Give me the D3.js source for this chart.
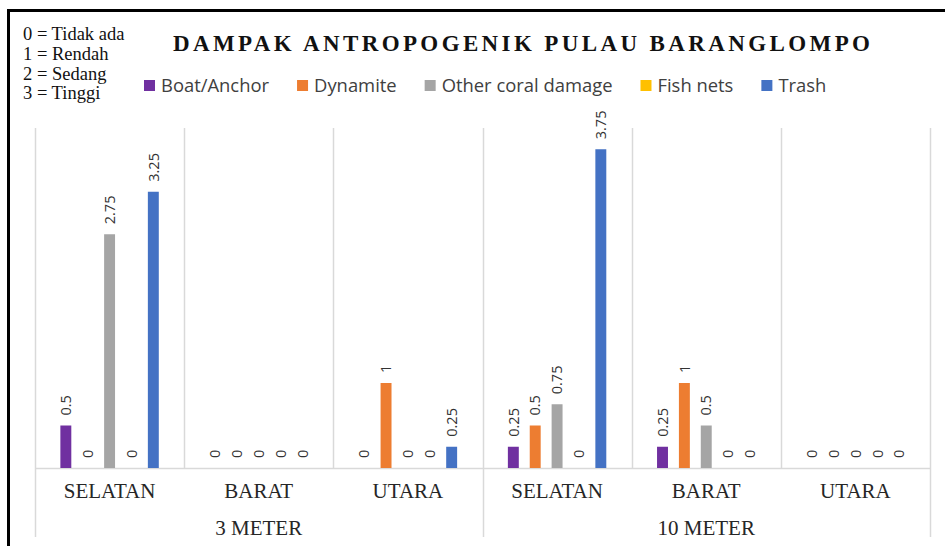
<!DOCTYPE html>
<html>
<head>
<meta charset="utf-8">
<script src="https://cdn.jsdelivr.net/npm/d3@7"></script>
<style>
  body { margin: 0; background: #fff; }
  svg { display: block; }
</style>
</head>
<body>
<div id="chart"></div>
<script>
// Data
const groups = ["3 METER", "10 METER"];
const locations = ["SELATAN", "BARAT", "UTARA"];
const seriesNames = ["Boat/Anchor", "Dynamite", "Other coral damage", "Fish nets", "Trash"];
const seriesColors = ["#7030A0", "#ED7D31", "#A5A5A5", "#FFC000", "#4472C4"];
// one value per category: 3m SELATAN, BARAT, UTARA, 10m SELATAN, BARAT, UTARA
const boatAnchor = [0.5, 0, 0, 0.25, 0.25, 0];
const dynamite = [0, 0, 1, 0.5, 1, 0];
const otherCoral = [2.75, 0, 0, 0.75, 0.5, 0];
const fishNets = [0, 0, 0, 0, 0, 0];
const trash = [3.25, 0, 0.25, 3.75, 0, 0];
const scaleKey = ["0 = Tidak ada", "1 = Rendah", "2 = Sedang", "3 = Tinggi"];
const titleText = "DAMPAK ANTROPOGENIK PULAU BARANGLOMPO";

const seriesValues = [boatAnchor, dynamite, otherCoral, fishNets, trash];

// Categories (group + location)
const categories = [];
groups.forEach((g, gi) => locations.forEach((l, li) => categories.push({ id: gi + "-" + li, group: g, loc: l })));

const bars = [];
categories.forEach((c, ci) => {
  seriesNames.forEach((s, si) => {
    bars.push({ cat: c.id, series: s, si, value: seriesValues[si][ci] });
  });
});

const width = 945, height = 546;
const plot = { left: 35, right: 930, top: 128, bottom: 468 };

const svg = d3.select("#chart").append("svg")
  .attr("width", width)
  .attr("height", height);

// Scales
const x0 = d3.scaleBand()
  .domain(categories.map((d) => d.id))
  .range([plot.left, plot.right])
  .padding(0);

const x1 = d3.scaleBand()
  .domain(seriesNames)
  .range([0, x0.bandwidth()])
  .paddingInner(0.5)
  .paddingOuter(1.16);

const y = d3.scaleLinear().domain([0, 4]).range([plot.bottom, plot.top]);

// Border (black frame, top + left)
svg.append("line")
  .attr("x1", 7).attr("x2", width)
  .attr("y1", 10.5).attr("y2", 10.5)
  .attr("stroke", "#000").attr("stroke-width", 3);
svg.append("line")
  .attr("x1", 8.5).attr("x2", 8.5)
  .attr("y1", 9).attr("y2", height)
  .attr("stroke", "#000").attr("stroke-width", 3);

// Grid / axis lines
const grid = svg.append("g").attr("stroke", "#D9D9D9").attr("stroke-width", 1.5);
categories.forEach((c, i) => {
  const xx = Math.round(x0(c.id)) + 0.5;
  const isGroupEdge = i % locations.length === 0;
  grid.append("line")
    .attr("x1", xx).attr("x2", xx)
    .attr("y1", plot.top).attr("y2", isGroupEdge ? 537 : plot.bottom);
});
grid.append("line")
  .attr("x1", plot.right + 0.5).attr("x2", plot.right + 0.5)
  .attr("y1", plot.top).attr("y2", 537);
grid.append("line")
  .attr("x1", plot.left).attr("x2", plot.right)
  .attr("y1", plot.bottom + 0.5).attr("y2", plot.bottom + 0.5);

// Bars
const barG = svg.append("g");
barG.selectAll("rect")
  .data(bars.filter((d) => d.value > 0))
  .join("rect")
  .attr("x", (d) => x0(d.cat) + x1(d.series))
  .attr("y", (d) => y(d.value))
  .attr("width", x1.bandwidth())
  .attr("height", (d) => y(0) - y(d.value))
  .attr("fill", (d) => seriesColors[d.si]);

// Data labels (rotated)
barG.selectAll("text")
  .data(bars)
  .join("text")
  .attr("transform", (d) => {
    const cx = x0(d.cat) + x1(d.series) + x1.bandwidth() / 2;
    return `translate(${cx},${y(d.value) - 10}) rotate(-90)`;
  })
  .attr("dy", "0.36em")
  .attr("text-anchor", "start")
  .attr("font-family", "'Open Sans', sans-serif")
  .attr("font-size", 14.5)
  .attr("fill", "#333")
  .text((d) => d.value);

// Category labels
svg.append("g").selectAll("text")
  .data(categories)
  .join("text")
  .attr("x", (d) => x0(d.id) + x0.bandwidth() / 2)
  .attr("y", 498)
  .attr("text-anchor", "middle")
  .attr("font-family", "'Liberation Serif', 'Times New Roman', serif")
  .attr("font-size", 21)
  .attr("fill", "#262626")
  .text((d) => d.loc);

// Group labels
svg.append("g").selectAll("text")
  .data(groups)
  .join("text")
  .attr("x", (g, gi) => {
    const first = categories[gi * locations.length].id;
    const last = categories[gi * locations.length + locations.length - 1].id;
    return (x0(first) + x0(last) + x0.bandwidth()) / 2;
  })
  .attr("y", 535)
  .attr("text-anchor", "middle")
  .attr("font-family", "'Liberation Serif', 'Times New Roman', serif")
  .attr("font-size", 21)
  .attr("fill", "#262626")
  .text((d) => d);

// Title
svg.append("text")
  .attr("x", 173)
  .attr("y", 51)
  .attr("textLength", 697)
  .attr("lengthAdjust", "spacing")
  .attr("font-family", "'Liberation Serif', 'Times New Roman', serif")
  .attr("font-weight", "bold")
  .attr("font-size", 23)
  .attr("fill", "#111")
  .text(titleText);

// Scale key (top-left)
svg.append("g").selectAll("text")
  .data(scaleKey)
  .join("text")
  .attr("x", 23)
  .attr("y", (d, i) => 40 + i * 19.8)
  .attr("font-family", "'Liberation Serif', 'Times New Roman', serif")
  .attr("font-size", 18.5)
  .attr("fill", "#111")
  .text((d) => d);

// Legend
const legend = svg.append("g");
const legendItems = legend.selectAll("g")
  .data(seriesNames)
  .join("g");
legendItems.append("rect")
  .attr("width", 11).attr("height", 11)
  .attr("y", -6)
  .attr("fill", (d, i) => seriesColors[i]);
legendItems.append("text")
  .attr("x", 17)
  .attr("dy", "0.35em")
  .attr("font-family", "'Open Sans', sans-serif")
  .attr("font-size", 18.4)
  .attr("fill", "#404040")
  .text((d) => d);

let lx = 0;
const offsets = [];
legendItems.each(function () {
  offsets.push(lx);
  const w = d3.select(this).select("text").node().getComputedTextLength();
  lx += 17 + w + 28;
});
const legendStart = 144;
legendItems.attr("transform", (d, i) => `translate(${legendStart + offsets[i]},86)`);
</script>
</body>
</html>
